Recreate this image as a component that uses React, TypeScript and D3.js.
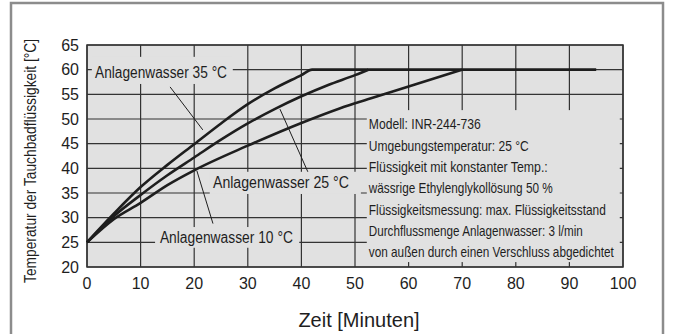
import React from "react";
import * as d3 from "d3";

// Zeit [Minuten] / Temperatur [°C] für drei Anlagenwasser-Temperaturen
const series35X = [0, 5, 10, 15, 20, 25, 30, 35, 40, 42, 95];
const series35Y = [25, 30.8, 36.2, 40.7, 44.9, 49.1, 53.0, 56.2, 58.9, 60, 60];
const series25X = [0, 5, 10, 15, 20, 25, 30, 35, 40, 45, 50, 52.5];
const series25Y = [25, 30.3, 34.6, 38.6, 42.2, 45.8, 49.1, 52.0, 54.6, 56.9, 58.9, 60];
const series10X = [0, 5, 10, 15, 20, 30, 40, 50, 53, 60, 70];
const series10Y = [25, 29.7, 33, 36.6, 39.6, 44.6, 49.2, 53.2, 54.2, 56.6, 60];

const xTicks = [0, 10, 20, 30, 40, 50, 60, 70, 80, 90, 100];
const yTicks = [20, 25, 30, 35, 40, 45, 50, 55, 60, 65];

const infoLines = [
  "Modell:  INR-244-736",
  "Umgebungstemperatur:  25 °C",
  "Flüssigkeit mit konstanter Temp.:",
  "wässrige Ethylenglykollösung 50 %",
  "Flüssigkeitsmessung:  max. Flüssigkeitsstand",
  "Durchflussmenge Anlagenwasser:  3 l/min",
  "von außen durch einen Verschluss abgedichtet",
];
const infoWidths = [112, 160, 179, 184, 237, 214, 245];

// label text, anchor (data units), text width, background, leader start/end (data units)
const labelNames = ["Anlagenwasser 35 °C", "Anlagenwasser 25 °C", "Anlagenwasser 10 °C"];
const labelPos = [[1.5, 59.4], [23.5, 37.1], [13.6, 26.1]];
const labelWidths = [132, 136, 133];
const labelBoxes = [[0.9, 57.1, 27.2, 62.6], [22.9, 34.8, 51.1, 39.3], [12.7, 23.9, 39.6, 28.1]];
const leaders = [
  [[15.5, 56.5], [21.6, 47.8]],
  [[36.0, 52.0], [41.2, 39.3]],
  [[20.5, 39.5], [23.5, 28.8]],
];
const infoBox = [52.2, 51.8, 99.4, 21.0];

const W = 674;
const H = 334;
const bg = "#e1e1e1";
const ink = "#1e1e1e";
const font = "'Liberation Sans', Arial, Helvetica, sans-serif";

export default function App() {
  const x = d3.scaleLinear().domain([0, 100]).range([87, 623]);
  const y = d3.scaleLinear().domain([20, 65]).range([267, 45]);

  const line = d3
    .line<[number, number]>()
    .x((d) => x(d[0]))
    .y((d) => y(d[1]))
    .curve(d3.curveMonotoneX);

  const curves = [
    d3.zip(series35X, series35Y) as [number, number][],
    d3.zip(series25X, series25Y) as [number, number][],
    d3.zip(series10X, series10Y) as [number, number][],
  ];

  const [bx0, by0, bx1, by1] = infoBox;
  const rowY = d3.scaleLinear().domain([0, infoLines.length - 1]).range([y(by0) + 14, y(by1) - 10]);

  return (
    <svg width={W} height={H} style={{ position: "absolute", left: 0, top: 0 }} fontFamily={font}>
      <rect x={0} y={0} width={W} height={H} fill="#fff" />
      <rect x={11} y={3} width={652} height={345} fill="#fff" stroke="#8c8c8c" strokeWidth={2.5} />

      {/* plot area */}
      <rect x={x(0)} y={y(65)} width={x(100) - x(0)} height={y(20) - y(65)} fill={bg} />
      {xTicks.map((t) => (
        <line key={"gx" + t} x1={x(t)} x2={x(t)} y1={y(20)} y2={y(65)} stroke="#333" strokeWidth={1.2} />
      ))}
      {yTicks.map((t) => (
        <line key={"gy" + t} x1={x(0)} x2={x(100)} y1={y(t)} y2={y(t)} stroke="#333" strokeWidth={1.2} />
      ))}

      {/* label backgrounds */}
      {labelBoxes.map((b, i) => (
        <rect key={"lb" + i} x={x(b[0])} y={y(b[3])} width={x(b[2]) - x(b[0])} height={y(b[1]) - y(b[3])} fill={bg} />
      ))}
      <rect x={x(bx0)} y={y(by0)} width={x(bx1) - x(bx0)} height={y(by1) - y(by0)} fill={bg} />

      <rect x={x(0)} y={y(65)} width={x(100) - x(0)} height={y(20) - y(65)} fill="none" stroke="#333" strokeWidth={1.5} />

      {/* curves */}
      {curves.map((c, i) => (
        <path key={"c" + i} d={line(c) || ""} fill="none" stroke={ink} strokeWidth={2.6} strokeLinejoin="round" />
      ))}

      {/* leaders */}
      {leaders.map((l, i) => (
        <line key={"ld" + i} x1={x(l[0][0])} y1={y(l[0][1])} x2={x(l[1][0])} y2={y(l[1][1])} stroke={ink} strokeWidth={1} />
      ))}

      {labelNames.map((n, i) => (
        <text
          key={"ln" + i}
          x={x(labelPos[i][0])}
          y={y(labelPos[i][1])}
          dy="0.35em"
          fontSize={16}
          fill={ink}
          textLength={labelWidths[i]}
          lengthAdjust="spacingAndGlyphs"
        >
          {n}
        </text>
      ))}

      {infoLines.map((s, i) => (
        <text
          key={"il" + i}
          x={x(bx0) + 2}
          y={rowY(i)}
          dy="0.35em"
          fontSize={15}
          fill={ink}
          textLength={infoWidths[i]}
          lengthAdjust="spacingAndGlyphs"
        >
          {s}
        </text>
      ))}

      {/* ticks */}
      {xTicks.map((t) => (
        <text key={"tx" + t} x={x(t)} y={283} dy="0.35em" textAnchor="middle" fontSize={16} fill={ink}>
          {t}
        </text>
      ))}
      {yTicks.map((t) => (
        <text key={"ty" + t} x={79} y={y(t)} dy="0.35em" textAnchor="end" fontSize={16} fill={ink}>
          {t}
        </text>
      ))}

      <text x={(x(0) + x(100)) / 2 + 4} y={320} dy="0.35em" textAnchor="middle" fontSize={20} fill={ink}>
        Zeit [Minuten]
      </text>
      <text
        transform={`translate(30, ${(y(20) + y(65)) / 2 + 5}) rotate(-90)`}
        textAnchor="middle"
        dy="0.35em"
        fontSize={16}
        fill={ink}
        textLength={244}
        lengthAdjust="spacingAndGlyphs"
      >
        Temperatur der Tauchbadflüssigkeit [°C]
      </text>
    </svg>
  );
}
